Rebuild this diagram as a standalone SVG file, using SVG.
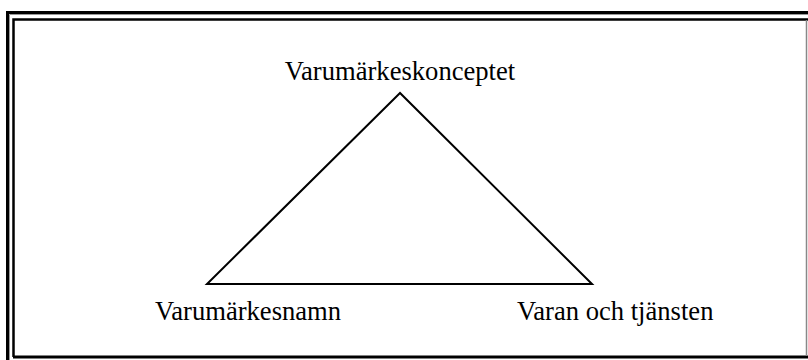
<svg xmlns="http://www.w3.org/2000/svg" width="808" height="360" viewBox="0 0 808 360">
<style>
.lbl{font-family:"Liberation Serif","Times New Roman",serif;font-size:26.6px;fill:#000}
.edge{fill:none;stroke:#000;stroke-width:2}
</style>
<rect width="808" height="360" fill="#fff"/>
<g id="frame">
<path d="M7.5,360 V12.5 H808" fill="none" stroke="#000" stroke-width="3"/>
<path d="M9.5,360 V14.5 H808" fill="none" stroke="#999" stroke-width="1"/>
<path d="M13.5,357 V19.5 H808" fill="none" stroke="#000" stroke-width="2.5"/>
<path d="M13,357 H808" fill="none" stroke="#000" stroke-width="3"/>
<path d="M806.5,20 V356" fill="none" stroke="#888" stroke-width="1.5"/>
</g>
<g id="connectors">
<path class="edge" d="M400,93 L207,284 L592,284 Z"/>
</g>
<g id="node-top"><text class="lbl" x="400" y="80" text-anchor="middle">Varumärkeskonceptet</text></g>
<g id="node-left"><text class="lbl" x="155" y="320">Varumärkesnamn</text></g>
<g id="node-right"><text class="lbl" x="517" y="320">Varan och tjänsten</text></g>
</svg>
